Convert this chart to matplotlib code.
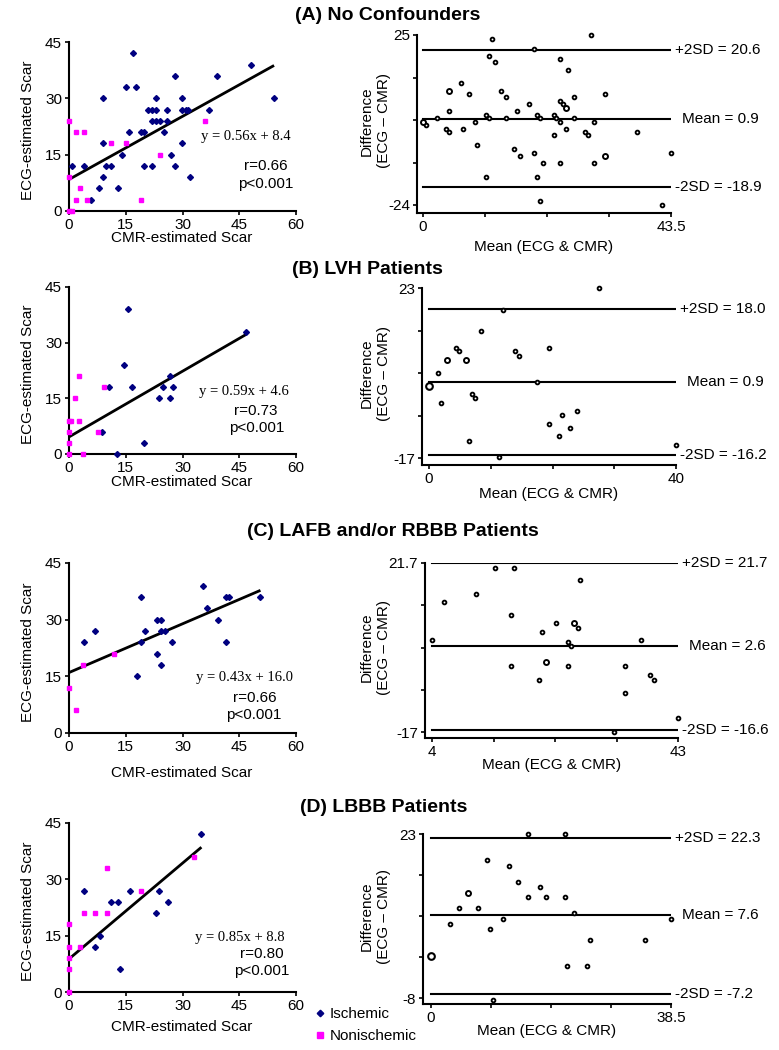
import matplotlib
matplotlib.use('Agg')
import matplotlib.pyplot as plt

plt.rcParams['font.family'] = ['Liberation Sans', 'DejaVu Sans']

W, H = 779, 1050
NAVY = '#000080'
PINK = '#FF00FF'

# ---------------- data ----------------
titles = ['(A) No Confounders', '(B) LVH Patients',
          '(C) LAFB and/or RBBB Patients', '(D) LBBB Patients']

scatter_xticks = [0, 15, 30, 45, 60]
scatter_yticks = [0, 15, 30, 45]

# (A) scatter
a_isch_x = [0.9, 3.9, 5.8, 8, 9, 9, 9, 9.8, 11, 12.9, 13.9, 15, 15.9, 17, 17.8, 18.9, 19.9, 19.9,
            21, 22, 22, 22, 23, 23, 23, 24.1, 25, 25.9, 25.9, 27, 28.1, 28.1, 29.8, 29.8, 29.8,
            30.9, 31.4, 32, 37, 39.1, 48.1, 54.2]
a_isch_y = [12, 12, 3, 6, 9, 18, 30, 12, 12, 6, 15, 33, 21, 42, 33, 21, 21, 12,
            27, 27, 12, 24, 27, 30, 24, 24, 21, 27, 24, 15, 36, 12, 30, 27, 18,
            27, 27, 9, 27, 36, 39, 30]
a_non_x = [0, 0, 0, 0.7, 1.8, 1.8, 2.9, 3.9, 4.8, 11, 15, 18.9, 24.1, 35.9]
a_non_y = [24, 9, 0, 0, 3, 21, 6, 21, 3, 18, 18, 3, 15, 24]
a_fit = (0.56, 8.4, 'r=0.66')

# (B) scatter
b_isch_x = [15.5, 14.6, 10.7, 16.7, 23.8, 26.7, 24.8, 27.6, 26.7, 46.7, 8.7, 19.9, 12.7]
b_isch_y = [39, 24, 18, 18, 15, 15, 18, 18, 21, 33, 6, 3, 0]
b_non_x = [2.6, 1.7, 9.3, 0, 0.6, 2.6, 0, 7.6, 0, 0, 3.7]
b_non_y = [21, 15, 18, 9, 9, 9, 6, 6, 3, 0, 0]
b_fit = (0.59, 4.6, 'r=0.73')

# (C) scatter
c_isch_x = [3.9, 7, 18.1, 19.1, 19.1, 20.1, 23.2, 24.3, 23.2, 24.3, 24.3, 25.3, 27.2,
            35.3, 36.4, 39.5, 41.4, 42.4, 41.4, 50.6]
c_isch_y = [24, 27, 15, 36, 24, 27, 30, 30, 21, 18, 27, 27, 24,
            39, 33, 30, 36, 36, 24, 36]
c_non_x = [0, 3.7, 11.8, 1.8]
c_non_y = [12, 18, 21, 6]
c_fit = (0.43, 16.0, 'r=0.66')

# (D) scatter
d_isch_x = [3.9, 7, 8.1, 11.1, 12.9, 16.1, 22.9, 23.9, 26.1, 35, 13.5]
d_isch_y = [27, 12, 15, 24, 24, 27, 21, 27, 24, 42, 6]
d_non_x = [0, 0, 2.8, 3.9, 7, 10, 10, 18.9, 33, 0, 0, 0]
d_non_y = [18, 12, 12, 21, 21, 21, 33, 27, 36, 9, 6, 0]
d_fit = (0.85, 8.8, 'r=0.80')

# Bland-Altman (A)
ba_a_x = [0.6, 2.5, 4.1, 4.6, 4.6, 6.6, 7.1, 8.1, 9.1, 9.5, 11.0, 11.1, 11.5, 11.6, 12.1,
          12.6, 13.6, 14.5, 14.5, 16.0, 16.5, 17.0, 18.6, 19.5, 19.5, 20.0, 20.0, 20.5, 20.5,
          21.1, 22.9, 23.0, 23.4, 24.0, 24.0, 24.0, 24.0, 24.5, 25.0, 25.5, 26.5, 26.5, 28.5,
          29.0, 29.4, 30.0, 30.0, 32.0, 37.5, 42.0, 43.5]
ba_a_y = [-1.0, 1.0, -2.0, -3.0, 3.1, 11.1, -2.0, 8.1, 0.0, -6.8, -15.8, 2.0, 19.0, 1.0, 23.9,
          17.1, 9.0, 7.0, 1.0, -7.9, 3.1, -10.0, 5.1, 21.0, -8.9, 2.0, -15.8, 1.0, -22.9,
          -12.0, 2.0, -3.9, 1.0, 0.0, 18.0, -12.0, 6.1, 5.1, -2.0, 14.9, 7.0, 1.0, -3.0,
          -3.9, 25.0, 0.0, -12.0, 8.1, -3.0, -23.9, -8.9]
ba_a_ox = [0.0, 4.6, 25.0, 32.0]          # overlapping points
ba_a_oy = [0.0, 9.0, 4.1, -10.0]
ba_a_stats = [20.6, 0.9, -18.9]
ba_a_xticks = [0, 10.875, 21.75, 32.625, 43.5]
ba_a_xlabels = ['0', '', '', '', '43.5']
ba_a_yticks = [25, 12.75, 0.5, -11.75, -24]
ba_a_ylabels = ['25', '', '', '', '-24']

# Bland-Altman (B)
ba_b_x = [1.4, 1.9, 4.4, 4.9, 6.9, 7.5, 6.4, 8.4, 12.0, 13.9, 14.5, 17.5, 19.5, 19.5,
          21.0, 21.5, 22.9, 24.0, 27.5, 40.0, 11.4]
ba_b_y = [3.1, -4.0, 9.0, 8.1, -1.9, -2.9, -12.9, 13.0, 17.8, 8.1, 7.0, 1.0, 9.0, -8.9,
          -11.9, -6.8, -9.9, -6.0, 22.9, -13.9, -16.8]
ba_b_ox = [2.9, 6.0]
ba_b_oy = [6.0, 6.0]
ba_b_lx = [0.0]
ba_b_ly = [0.0]
ba_b_stats = [18.0, 0.9, -16.2]
ba_b_xticks = [0, 10, 20, 30, 40]
ba_b_xlabels = ['0', '', '', '', '40']
ba_b_yticks = [23, 13, 3, -7, -17]
ba_b_ylabels = ['23', '', '', '', '-17']

# Bland-Altman (C)
ba_c_x = [4.0, 5.9, 10.9, 14.0, 17.0, 16.5, 16.5, 21.0, 21.5, 23.6, 25.6, 26.0, 25.6,
          27.1, 27.5, 34.6, 34.6, 37.2, 38.6, 39.2, 32.8, 43.0]
ba_c_y = [4.0, 12.7, 14.7, 20.6, 20.6, 9.7, -2.0, -5.0, 5.9, 7.9, 3.7, 2.7, -2.0,
          6.9, 17.7, -2.0, -8.0, 4.0, -4.0, -5.0, -17.0, -13.8]
ba_c_ox = [22.0, 26.5]
ba_c_oy = [-0.9, 7.9]
ba_c_stats = [21.7, 2.6, -16.6]
ba_c_xticks = [4, 13.75, 23.5, 33.25, 43]
ba_c_xlabels = ['4', '', '', '', '43']
ba_c_yticks = [21.7, 12.025, 2.35, -7.325, -17]
ba_c_ylabels = ['21.7', '', '', '', '-17']

# Bland-Altman (D)
ba_d_x = [3.0, 4.5, 7.5, 9.0, 9.5, 11.5, 12.5, 14.0, 15.5, 15.5, 17.5, 18.5, 21.5, 21.5,
          23.0, 25.5, 34.4, 38.5, 21.8, 25.0, 10.0]
ba_d_y = [6.0, 9.0, 9.0, 18.0, 5.0, 7.0, 17.0, 14.0, 23.0, 11.0, 13.0, 11.0, 23.0, 11.0,
          8.0, 3.0, 3.0, 7.0, -2.0, -2.0, -8.4]
ba_d_ox = [6.0]
ba_d_oy = [11.9]
ba_d_lx = [0.0]
ba_d_ly = [0.0]
ba_d_stats = [22.3, 7.6, -7.2]
ba_d_xticks = [0, 9.625, 19.25, 28.875, 38.5]
ba_d_xlabels = ['0', '', '', '', '38.5']
ba_d_yticks = [23, 15.25, 7.5, -0.25, -8]
ba_d_ylabels = ['23', '', '', '', '-8']

# ---------------- drawing ----------------
fig = plt.figure(figsize=(W / 100, H / 100), dpi=100)


def fx(px):
    return px / W


def fy(py):
    return 1 - py / H


def style_axes(ax):
    for s in ['top', 'right']:
        ax.spines[s].set_visible(False)
    for s in ['left', 'bottom']:
        ax.spines[s].set_linewidth(1.5)
    ax.tick_params(direction='out', length=3, width=1.2, labelsize=11, pad=2,
                   colors='black')


def scatter_panel(y0, y45, ix, iy, nx, ny, fit, eq_xy, r_xy, p_xy, xlab_y):
    ax = fig.add_axes([fx(69), fy(y0), (296 - 69) / W, (y0 - y45) / H])
    ax.set_xlim(0, 60)
    ax.set_ylim(0, 45)
    style_axes(ax)
    ax.set_xticks(scatter_xticks)
    ax.set_yticks(scatter_yticks)
    slope, icpt, rtxt = fit
    xmax = max(ix + nx)
    ax.plot([0, xmax], [icpt, icpt + slope * xmax], color='black', lw=2.0,
            solid_capstyle='butt', zorder=2)
    h1, = ax.plot(ix, iy, 'D', ms=3.0, color=NAVY, ls='none', clip_on=False,
                  zorder=3, label='Ischemic')
    h2, = ax.plot(nx, ny, 's', ms=3.3, color=PINK, ls='none', clip_on=False,
                  zorder=3, label='Nonischemic')
    fig.text(fx(eq_xy[0]), fy(eq_xy[1]), f'y = {slope:.2f}x + {icpt:.1f}',
             family=['Liberation Serif', 'DejaVu Serif'], fontsize=10.5,
             ha='center', va='center')
    fig.text(fx(r_xy[0]), fy(r_xy[1]), rtxt, fontsize=11, ha='center', va='center')
    fig.text(fx(p_xy[0]), fy(p_xy[1]), 'p<0.001', fontsize=11, ha='center', va='center')
    fig.text(fx(182), fy(xlab_y), 'CMR-estimated Scar', fontsize=11,
             ha='center', va='center')
    fig.text(fx(28), fy((y0 + y45) / 2 + 4), 'ECG-estimated Scar', fontsize=11,
             rotation=90, ha='center', va='center')
    return h1, h2


def ba_panel(xs, x_lo, x_hi, y_top, y_bot, yax, xticks, xlabels, yticks, ylabels,
             x, y, ox, oy, lx, ly, stats, xlab_y):
    xv0, xv1 = xticks[0], xticks[-1]
    yv_top, yv_bot = yticks[0], yticks[-1]
    ppx = (x_hi - x_lo) / (xv1 - xv0)
    xmin = xv0 - (x_lo - xs) / ppx
    ppy = (y_bot - y_top) / (yv_top - yv_bot)
    ymin = yv_bot - (yax - y_bot) / ppy
    ax = fig.add_axes([fx(xs), fy(yax), (x_hi - xs) / W, (yax - y_top) / H])
    ax.set_xlim(xmin, xv1)
    ax.set_ylim(ymin, yv_top)
    style_axes(ax)
    ax.set_xticks(xticks)
    ax.set_xticklabels(xlabels)
    ax.set_yticks(yticks)
    ax.set_yticklabels(ylabels)
    hi, mean, lo = stats
    for v in (hi, mean, lo):
        ax.plot([xv0, xv1], [v, v], color='black', lw=1.5, zorder=2)
    ax.annotate(f'+2SD = {hi:.1f}', xy=(xv1, hi), xytext=(3, 0),
                textcoords='offset points', ha='left', va='center', fontsize=11,
                annotation_clip=False)
    ax.annotate(f'Mean = {mean:.1f}', xy=(xv1, mean), xytext=(63, 0),
                textcoords='offset points', ha='right', va='center', fontsize=11,
                annotation_clip=False)
    ax.annotate(f'-2SD = {lo:.1f}', xy=(xv1, lo), xytext=(3, 0),
                textcoords='offset points', ha='left', va='center', fontsize=11,
                annotation_clip=False)
    ax.plot(x, y, 'o', ms=2.7, mfc='white', mec='black', mew=1.35, ls='none',
            clip_on=False, zorder=3)
    if ox:
        ax.plot(ox, oy, 'o', ms=3.6, mfc='white', mec='black', mew=1.4, ls='none',
                clip_on=False, zorder=3)
    if lx:
        ax.plot(lx, ly, 'o', ms=4.8, mfc='white', mec='black', mew=1.5, ls='none',
                clip_on=False, zorder=3)
    xc = (xs + x_hi) / 2
    fig.text(fx(xc), fy(xlab_y), 'Mean (ECG & CMR)', fontsize=11,
             ha='center', va='center')
    yc = (y_top + yax) / 2 - 3
    fig.text(fx(367), fy(yc), 'Difference', fontsize=11, rotation=90,
             ha='center', va='center')
    fig.text(fx(384), fy(yc), '(ECG \u2013 CMR)', fontsize=11, rotation=90,
             ha='center', va='center')


# titles
for t, (tx, ty) in zip(titles, [(388, 15), (367, 270), (393, 532), (384, 807)]):
    fig.text(fx(tx), fy(ty), t, fontsize=14, fontweight='bold', ha='center', va='center')

handles = scatter_panel(211, 42, a_isch_x, a_isch_y, a_non_x, a_non_y, a_fit,
                        (246, 137), (266, 166), (266, 184), 238)
scatter_panel(454, 287, b_isch_x, b_isch_y, b_non_x, b_non_y, b_fit,
              (244, 391), (256, 411), (257, 428), 482)
scatter_panel(733, 563, c_isch_x, c_isch_y, c_non_x, c_non_y, c_fit,
              (244, 678), (255, 698), (254, 715), 773)
scatter_panel(992, 823, d_isch_x, d_isch_y, d_non_x, d_non_y, d_fit,
              (240, 937), (262, 954), (262, 971), 1027)

ba_panel(417, 423, 671, 35, 205, 213, ba_a_xticks, ba_a_xlabels, ba_a_yticks, ba_a_ylabels,
         ba_a_x, ba_a_y, ba_a_ox, ba_a_oy, [], [], ba_a_stats, 247)
ba_panel(422, 429, 676, 288, 458, 465, ba_b_xticks, ba_b_xlabels, ba_b_yticks, ba_b_ylabels,
         ba_b_x, ba_b_y, ba_b_ox, ba_b_oy, ba_b_lx, ba_b_ly, ba_b_stats, 494)
ba_panel(425, 432, 678, 563, 732, 738, ba_c_xticks, ba_c_xlabels, ba_c_yticks, ba_c_ylabels,
         ba_c_x, ba_c_y, ba_c_ox, ba_c_oy, [], [], ba_c_stats, 765)
ba_panel(423, 431, 671, 834, 998, 1004, ba_d_xticks, ba_d_xlabels, ba_d_yticks, ba_d_ylabels,
         ba_d_x, ba_d_y, ba_d_ox, ba_d_oy, ba_d_lx, ba_d_ly, ba_d_stats, 1031)

fig.legend(handles=list(handles), loc='upper left',
           bbox_to_anchor=(fx(315), fy(1007)), frameon=False, fontsize=11,
           handlelength=0.6, handletextpad=0.35, borderpad=0, borderaxespad=0,
           labelspacing=0.55, markerscale=1.1)

fig.savefig('out.png', dpi=100)
